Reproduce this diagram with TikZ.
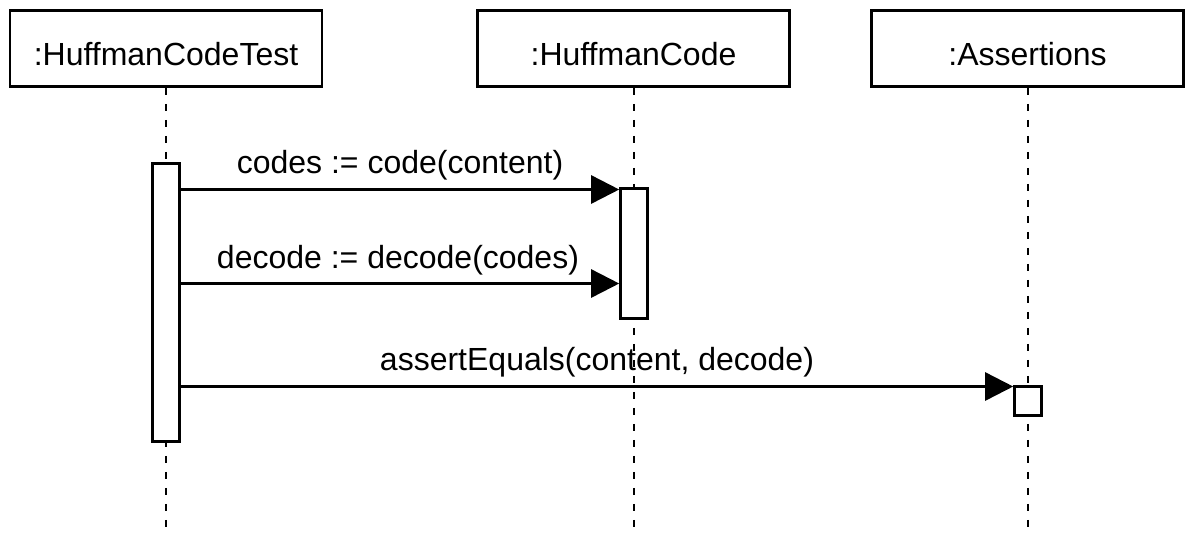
\documentclass[tikz,border=0pt]{standalone}
\usepackage{fontspec}
\setmainfont{Liberation Sans}
\usetikzlibrary{arrows.meta,calc}
\begin{document}
\begin{tikzpicture}[x=1pt,y=-1pt,
  every node/.style={font=\fontsize{32}{38}\selectfont, inner sep=0pt},
  objbox/.style={draw, line width=2.6pt, minimum width=312pt, minimum height=76pt, anchor=center, text height=33pt, text depth=0pt},
  actbox/.style={draw, fill=white, line width=2.6pt, minimum width=27pt, anchor=north},
  lifeline/.style={line width=2.8pt, dash pattern=on 7pt off 9pt},
  msg/.style={line width=2.6pt, -{Triangle[length=28pt,width=28pt]}},
  msglabel/.style={anchor=base}
]
\useasboundingbox (0,0) rectangle (1196,550);
% objects
\node[objbox] (o1) at (166,48.5) {:HuffmanCodeTest};
\node[objbox] (o2) at (633.5,48.5) {:HuffmanCode};
\node[objbox] (o3) at (1027.5,48.5) {:Assertions};
% lifeline ends
\coordinate (e1) at (166,529);
\coordinate (e2) at (634,529);
\coordinate (e3) at (1028,529);
\draw[lifeline] (o1.south -| e1) -- (e1);
\draw[lifeline] (o2.south -| e2) -- (e2);
\draw[lifeline] (o3.south -| e3) -- (e3);
% activations
\node[actbox, minimum height=278pt] (a1) at (166,162) {};
\node[actbox, minimum height=130pt] (a2) at (634,187) {};
\node[actbox, minimum height=29pt] (a3) at (1028,385) {};
% message heights
\coordinate (m1) at (0,189.5);
\coordinate (m2) at (0,283.5);
\coordinate (m3) at (0,386.5);
\draw[msg] (a1.east |- m1) -- (a2.west |- m1);
\draw[msg] (a1.east |- m2) -- (a2.west |- m2);
\draw[msg] (a1.east |- m3) -- (a3.west |- m3);
\node[msglabel] (l1) at (400,173) {codes := code(content)};
\node[msglabel] (l2) at (398,268) {decode := decode(codes)};
\node[msglabel] (l3) at (597,370) {assertEquals(content, decode)};
\end{tikzpicture}
\end{document}
